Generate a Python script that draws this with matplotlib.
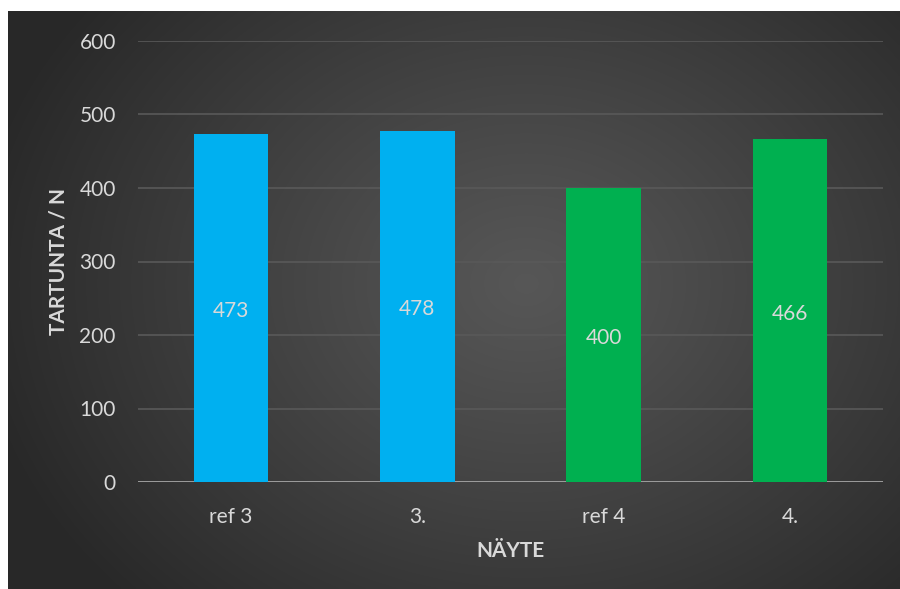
import numpy as np
import matplotlib
matplotlib.use("Agg")
import matplotlib.pyplot as plt

categories = ["ref 3", "3.", "ref 4", "4."]
values = [473, 478, 400, 466]
bar_colors = ["#00B0F0", "#00B0F0", "#00B050", "#00B050"]
y_ticks = [0, 100, 200, 300, 400, 500, 600]

W, H = 900, 589
fig = plt.figure(figsize=(W / 100, H / 100), dpi=100)
fig.patch.set_facecolor("white")

# dark radial-gradient panel behind the chart
bg = fig.add_axes([8 / W, 0, (W - 8) / W, (H - 11) / H])
bg.set_axis_off()
ny, nx = 300, 460
yy, xx = np.mgrid[0:ny, 0:nx]
cx, cy = nx * 0.58, ny * 0.47
r = np.sqrt(((xx - cx) / (nx * 0.62)) ** 2 + ((yy - cy) / (ny * 0.78)) ** 2)
r = np.clip(r, 0, 1)
inner, outer = 0.34, 0.16
grad = inner + (outer - inner) * r ** 1.1
bg.imshow(np.dstack([grad, grad, grad]), aspect="auto", extent=[0, 1, 0, 1],
          interpolation="bilinear")
bg.set_xlim(0, 1)
bg.set_ylim(0, 1)

# plot area
left, right = 138 / W, 883 / W
top, bottom = 41 / H, 482 / H
ax = fig.add_axes([left, 1 - bottom, right - left, bottom - top])
ax.set_facecolor("none")
ax.set_ylim(0, 600)
ax.set_xlim(-0.5, len(categories) - 0.5)

text_col = "#D9D9D9"
font = "Lato"

for yt in y_ticks[1:]:
    ax.axhline(yt, color="#595959", lw=1.2, zorder=0)

x = np.arange(len(categories))
bars = ax.bar(x, values, width=0.40, color=bar_colors, zorder=2)
for xi, v in zip(x, values):
    ax.text(xi, v / 2 - 4, f"{v}", ha="center", va="center", color=text_col,
            fontsize=15, family=font, zorder=3)

ax.axhline(0, color="#A6A6A6", lw=2, zorder=1)

for s in ax.spines.values():
    s.set_visible(False)
ax.set_yticks(y_ticks)
ax.set_yticklabels([str(t) for t in y_ticks], color=text_col, fontsize=15, family=font)
ax.set_xticks(x)
ax.set_xticklabels(categories, color=text_col, fontsize=15, family=font)
ax.tick_params(axis="both", length=0)
ax.tick_params(axis="y", pad=16)
ax.tick_params(axis="x", pad=18)

ax.set_xlabel("NÄYTE", color=text_col, fontsize=15, fontweight="bold", family=font, labelpad=10)
ax.set_ylabel("TARTUNTA / N", color=text_col, fontsize=15, fontweight="bold", family=font, labelpad=8)

fig.savefig("out.png", dpi=100)
